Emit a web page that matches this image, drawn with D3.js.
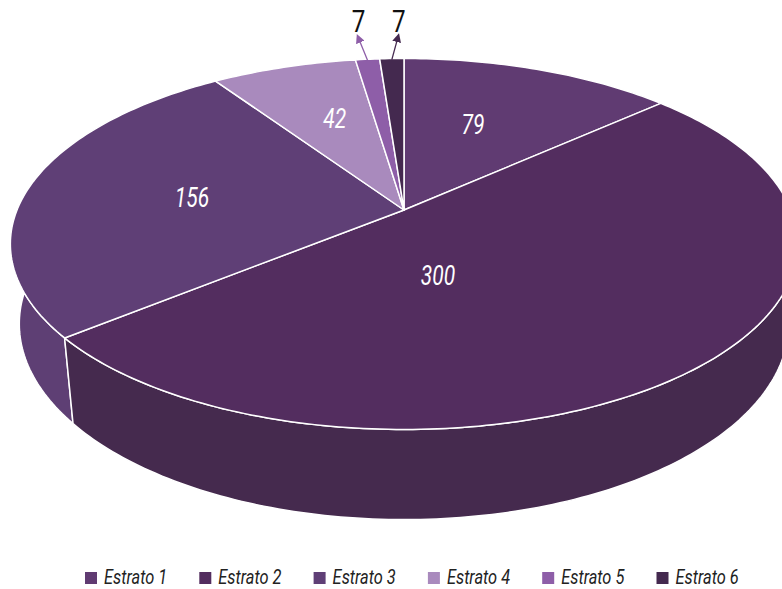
<!DOCTYPE html>
<html>
<head>
<meta charset="utf-8">
<script src="https://cdn.jsdelivr.net/npm/d3@7"></script>
<style>
  html, body { margin: 0; padding: 0; background: #fff; }
  svg { display: block; }
  text { font-family: "Roboto", "Liberation Sans", sans-serif; }
</style>
</head>
<body>
<svg id="chart" width="782" height="589"></svg>
<script>
// data
const categories = ["Estrato 1", "Estrato 2", "Estrato 3", "Estrato 4", "Estrato 5", "Estrato 6"];
const values = [79, 300, 156, 42, 7, 7];
const colors = ["#603b72", "#532d5f", "#5f3f76", "#a98abd", "#8e5ea8", "#44294f"];
const sideColors = ["#583668", "#452a4e", "#5e3f74", "#9a7cad", "#7f5597", "#3c2546"];

const svg = d3.select("#chart");

// no condensed face is installed, so squeeze the glyphs horizontally
function condense(sel, k) {
  sel.each(function () {
    const w = this.getComputedTextLength();
    d3.select(this).attr("textLength", w * k).attr("lengthAdjust", "spacingAndGlyphs");
  });
}

// perspective setup for the tilted disc
const cx = 404, cy = 210;
const alpha = 27.6 * Math.PI / 180;
const sinA = Math.sin(alpha), cosA = Math.cos(alpha);
const D = 4.84, f = 1873, thick = 0.235;

// theta clockwise from 12 o'clock, r in disc units, h height (0 = top face)
function project(theta, r, h) {
  const u = r * Math.sin(theta);
  const v = r * Math.cos(theta);
  const yc = v * sinA + h * cosA;
  const z = D + v * cosA - h * sinA;
  return [cx + f * u / z, cy - f * yc / z];
}

function arcPoints(a0, a1, h) {
  const n = Math.max(2, Math.ceil(Math.abs(a1 - a0) / (Math.PI / 180)));
  return d3.range(n + 1).map(i => project(a0 + (a1 - a0) * i / n, 1, h));
}

const pie = d3.pie().sort(null).value(d => d);
const arcs = pie(values);
const line = d3.line();

// walls, back ones first
const walls = arcs
  .map((a, i) => ({ a, i, depth: Math.cos((a.startAngle + a.endAngle) / 2) }))
  .sort((p, q) => q.depth - p.depth);

svg.append("g")
  .selectAll("path")
  .data(walls)
  .join("path")
  .attr("d", d => {
    const top = arcPoints(d.a.startAngle, d.a.endAngle, 0);
    const bot = arcPoints(d.a.endAngle, d.a.startAngle, -thick);
    return line(top.concat(bot)) + "Z";
  })
  .attr("fill", d => sideColors[d.i])
  .attr("stroke", "#fff")
  .attr("stroke-width", 1.5)
  .attr("stroke-linejoin", "round");

// top faces
svg.append("g")
  .selectAll("path")
  .data(arcs)
  .join("path")
  .attr("d", a => line([project(0, 0, 0)].concat(arcPoints(a.startAngle, a.endAngle, 0))) + "Z")
  .attr("fill", (a, i) => colors[i])
  .attr("stroke", "#fff")
  .attr("stroke-width", 1.5)
  .attr("stroke-linejoin", "round");

// labels inside the big slices (angle in degrees, radius in disc units)
const labelSpots = [[20.4, 0.56], [166.4, 0.35], [277.5, 0.56], [340.8, 0.6]];
svg.append("g")
  .selectAll("text")
  .data(labelSpots)
  .join("text")
  .attr("x", s => project(s[0] * Math.PI / 180, s[1], 0)[0])
  .attr("y", s => project(s[0] * Math.PI / 180, s[1], 0)[1])
  .attr("dy", "0.36em")
  .attr("text-anchor", "middle")
  .attr("font-size", 28)
  .attr("font-style", "italic")
  .attr("fill", "#fff")
  .text((s, i) => values[i])
  .call(condense, 0.75);

// small slices get callouts above the rim
const defs = svg.append("defs");
const small = [{ i: 4, dx: -9 }, { i: 5, dx: 6 }];
small.forEach(s => {
  defs.append("marker")
    .attr("id", "arrow" + s.i)
    .attr("viewBox", "0 0 10 10")
    .attr("refX", 5).attr("refY", 5)
    .attr("markerWidth", 9).attr("markerHeight", 9)
    .attr("markerUnits", "userSpaceOnUse")
    .attr("orient", "auto")
    .append("path")
    .attr("d", "M0,0L10,5L0,10Z")
    .attr("fill", colors[s.i]);
});

const callouts = svg.append("g");
small.forEach(s => {
  const a = arcs[s.i];
  const rim = project((a.startAngle + a.endAngle) / 2, 1, 0);
  const tip = [rim[0] + s.dx, rim[1] - 21];
  callouts.append("line")
    .attr("x1", rim[0]).attr("y1", rim[1] + 1)
    .attr("x2", tip[0]).attr("y2", tip[1])
    .attr("stroke", colors[s.i])
    .attr("stroke-width", 1.3)
    .attr("marker-end", `url(#arrow${s.i})`);
  callouts.append("text")
    .attr("x", tip[0] + (s.dx < 0 ? 0 : 1))
    .attr("y", tip[1] - 6)
    .attr("text-anchor", "middle")
    .attr("font-size", 31)
    .attr("fill", "#111")
    .text(values[s.i])
    .call(condense, 0.78);
});

// legend
const legendX = d3.scaleBand().domain(categories).range([85, 85 + 6 * 114.3]);
const legend = svg.append("g").attr("transform", "translate(0,578)");
const item = legend.selectAll("g")
  .data(categories)
  .join("g")
  .attr("transform", d => `translate(${legendX(d)},0)`);
item.append("rect")
  .attr("x", 0).attr("y", -6)
  .attr("width", 12).attr("height", 12)
  .attr("fill", (d, i) => colors[i]);
item.append("text")
  .attr("x", 19)
  .attr("y", 5.5)
  .attr("font-size", 21)
  .attr("font-style", "italic")
  .attr("fill", "#222")
  .text(d => d)
  .call(condense, 0.78);
</script>
</body>
</html>
